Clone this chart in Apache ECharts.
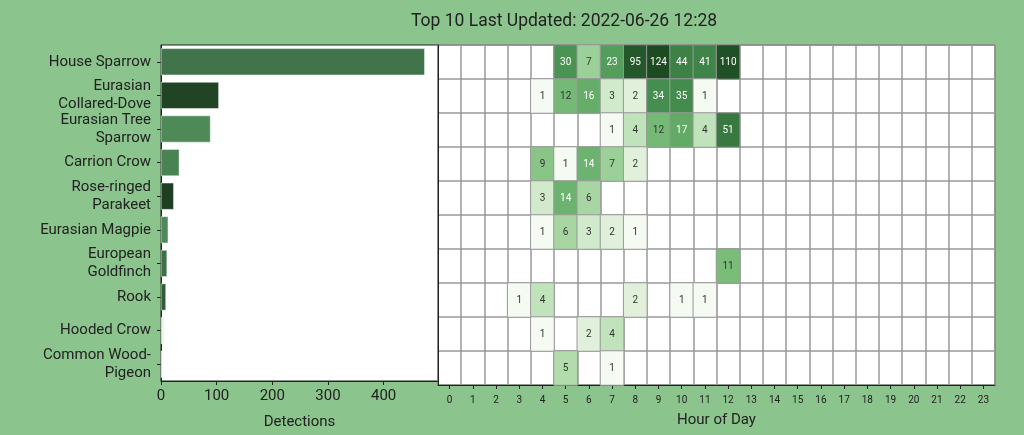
<!DOCTYPE html>
<html>
<head>
<meta charset="utf-8">
<script src="https://cdn.jsdelivr.net/npm/echarts@6/dist/echarts.min.js"></script>
<style>
html,body{margin:0;padding:0;background:#8BC48C;}
#c{width:1024px;height:435px;}
</style>
</head>
<body>
<div id="c"></div>
<script>
const species = ["House Sparrow","Eurasian\nCollared-Dove","Eurasian Tree\nSparrow","Carrion Crow","Rose-ringed\nParakeet","Eurasian Magpie","European\nGoldfinch","Rook","Hooded Crow","Common Wood-\nPigeon"];
const detections = [474,104,89,33,23,13,11,9,7,6];
const barColors = ["#41744a","#214524","#4e8a58","#4a8353","#1f3f22","#4e8a58","#3b7245","#2f5e36","#eef5ec","#fbfdfa"];
const hours = ["0","1","2","3","4","5","6","7","8","9","10","11","12","13","14","15","16","17","18","19","20","21","22","23"];
// hourly counts per species: [hour, count]
const houseSparrow = [[5,30],[6,7],[7,23],[8,95],[9,124],[10,44],[11,41],[12,110]];
const collaredDove = [[4,1],[5,12],[6,16],[7,3],[8,2],[9,34],[10,35],[11,1]];
const treeSparrow = [[7,1],[8,4],[9,12],[10,17],[11,4],[12,51]];
const carrionCrow = [[4,9],[5,1],[6,14],[7,7],[8,2]];
const parakeet = [[4,3],[5,14],[6,6]];
const magpie = [[4,1],[5,6],[6,3],[7,2],[8,1]];
const goldfinch = [[12,11]];
const rook = [[3,1],[4,4],[8,2],[10,1],[11,1]];
const hoodedCrow = [[4,1],[6,2],[7,4]];
const woodPigeon = [[5,5],[7,1]];
const hourly = [houseSparrow,collaredDove,treeSparrow,carrionCrow,parakeet,magpie,goldfinch,rook,hoodedCrow,woodPigeon];

const maxCount = Math.max(...hourly.flat().map(d=>d[1]));
const logMax = Math.log(maxCount);
const stops = [[0,"#f5faf3"],[0.14,"#e3f2de"],[0.25,"#cde8c7"],[0.375,"#a6d6a1"],[0.5,"#78bc78"],[0.625,"#58a35f"],[0.75,"#428a4c"],[0.875,"#2f6a37"],[1,"#1c4a21"]];
function hex(c){return [1,3,5].map(i=>parseInt(c.substr(i,2),16));}
function lum(t){
  for(let i=0;i<stops.length-1;i++){
    if(t<=stops[i+1][0]){
      const f=(t-stops[i][0])/(stops[i+1][0]-stops[i][0]);
      const a=hex(stops[i][1]),b=hex(stops[i+1][1]);
      const rgb=a.map((v,k)=>(v+(b[k]-v)*f)/255).map(v=>v<=0.03928?v/12.92:Math.pow((v+0.055)/1.055,2.4));
      return 0.2126*rgb[0]+0.7152*rgb[1]+0.0722*rgb[2];
    }
  }
  return 0;
}
const heatData = [];
hourly.forEach((row,ri)=>row.forEach(([h,v])=>{
  const t=Math.log(v)/logMax;
  heatData.push({value:[h,ri,v,Math.log(v)],label:{color: lum(t)<0.385?"#ffffff":"#333333"}});
}));

const chart = echarts.init(document.getElementById('c'));
const font = "Roboto";
chart.setOption({
  backgroundColor:"#8BC48C",
  textStyle:{fontFamily:font},
  title:{text:"Top 10 Last Updated: 2022-06-26 12:28",left:406,top:8,
    textStyle:{fontFamily:font,fontSize:17.5,fontWeight:"normal",color:"#222"}},
  grid:[
    {left:161,top:45,width:277,height:340,show:true,backgroundColor:"#fff",borderColor:"#222",borderWidth:1},
    {left:438,top:45,width:557,height:340,show:true,backgroundColor:"#fff",borderColor:"#222",borderWidth:1}
  ],
  xAxis:[
    {type:"value",gridIndex:0,min:0,max:497.7,interval:100,
     axisLine:{show:true,lineStyle:{color:"#222"}},axisTick:{show:true,length:4,lineStyle:{color:"#222"}},
     axisLabel:{color:"#222",fontSize:15,margin:8,showMaxLabel:false},splitLine:{show:false},
     name:"Detections",nameLocation:"middle",nameGap:34,nameTextStyle:{color:"#222",fontSize:15}},
    {type:"category",gridIndex:1,data:hours,
     axisLine:{show:true,lineStyle:{color:"#222"}},axisTick:{show:true,alignWithLabel:true,length:4,lineStyle:{color:"#222"}},
     axisLabel:{color:"#222",fontSize:10,margin:10},
     splitLine:{show:true,lineStyle:{color:"#999",width:1.5}},
     name:"Hour of Day",nameLocation:"middle",nameGap:28,nameTextStyle:{color:"#222",fontSize:15}}
  ],
  yAxis:[
    {type:"category",gridIndex:0,data:species,inverse:true,
     axisLine:{show:true,lineStyle:{color:"#222"}},axisTick:{show:true,alignWithLabel:true,length:4,lineStyle:{color:"#222"}},
     axisLabel:{color:"#222",fontSize:15,lineHeight:18,margin:10,padding:[0,0,4,0]}},
    {type:"category",gridIndex:1,data:species,inverse:true,
     axisLine:{show:true,lineStyle:{color:"#222"}},axisTick:{show:false},axisLabel:{show:false},
     splitLine:{show:true,lineStyle:{color:"#999",width:1.5}}}
  ],
  visualMap:{show:false,type:"continuous",dimension:3,seriesIndex:1,min:0,max:logMax,
    inRange:{color:stops.map(s=>s[1])}},
  series:[
    {type:"bar",xAxisIndex:0,yAxisIndex:0,barWidth:"80%",
     data:detections.map((v,i)=>({value:v,itemStyle:{color:barColors[i]}})),
     itemStyle:{borderColor:"#fff",borderWidth:0.5}},
    {type:"heatmap",xAxisIndex:1,yAxisIndex:1,data:heatData,
     itemStyle:{borderColor:"#999",borderWidth:1},
     label:{show:true,formatter:p=>p.value[2],fontSize:10,fontFamily:font}}
  ]
});
</script>
</body>
</html>
